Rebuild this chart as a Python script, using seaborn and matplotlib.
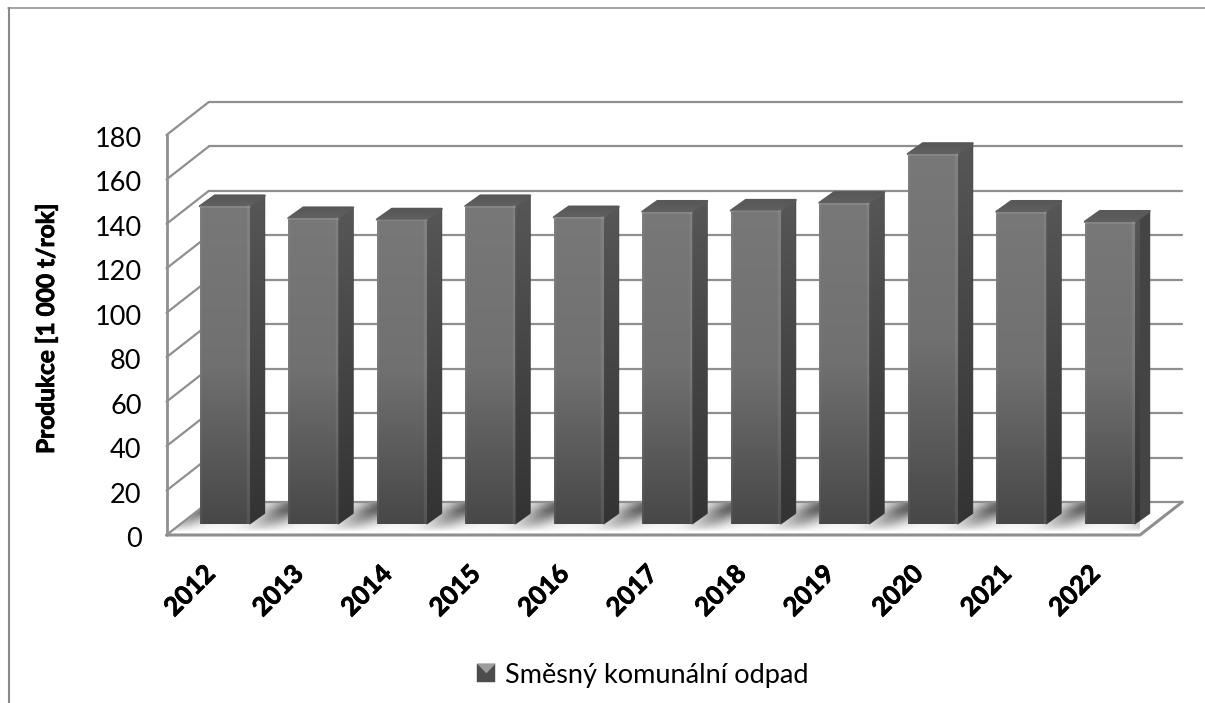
import numpy as np
import matplotlib
matplotlib.use("Agg")
import matplotlib.pyplot as plt
import matplotlib.patheffects as pe
from matplotlib.colors import LinearSegmentedColormap
from matplotlib.legend_handler import HandlerPatch
from matplotlib.lines import Line2D
from matplotlib.patches import Patch, Polygon
from matplotlib.transforms import ScaledTranslation
import pandas as pd
import seaborn as sns

years = ["2012", "2013", "2014", "2015", "2016", "2017", "2018", "2019", "2020", "2021", "2022"]
production = [143, 137.6, 137, 143, 138, 140.5, 141, 144.5, 166.5, 140.5, 136]
y_ticks = [0, 20, 40, 60, 80, 100, 120, 140, 160, 180]
y_title = "Produkce [1 000 t/rok]"
series_name = "Směsný komunální odpad"

W, H = 1205, 703
sns.set_style("white")
plt.rcParams["font.family"] = ["Lato", "DejaVu Sans"]

fig = plt.figure(figsize=(W / 100, H / 100), dpi=100, facecolor="white")
L, R, T, B = 166.5, 1140, 135, 535
ax = fig.add_axes([L / W, (H - B) / H, (R - L) / W, (B - T) / H])
XLIM = (-0.5, 10.5)
YLIM = (0, 180)
DX = (XLIM[1] - XLIM[0]) / (R - L)
DY = (YLIM[1] - YLIM[0]) / (B - T)

WALL_X, WALL_Y = 42.3 * DX, 33 * DY
BAR_OFF_X, BAR_OFF_Y = 14 * DX, 11 * DY
BAR_D_X, BAR_D_Y = 15 * DX, 10.7 * DY
GRID = "#8f8f8f"
HEAVY = [pe.withStroke(linewidth=0.6, foreground="black")]


def gray_cmap(*levels):
    return LinearSegmentedColormap.from_list("g", [(v, v, v) for v in levels])


def fill_gradient(poly, extent, top, bottom):
    ax.add_patch(poly)
    im = ax.imshow(np.linspace(0, 1, 256)[:, None], extent=extent, aspect="auto",
                   cmap=gray_cmap(top, bottom), vmin=0, vmax=1, zorder=poly.get_zorder(),
                   interpolation="bilinear", origin="upper")
    im.set_clip_path(poly)


df = pd.DataFrame({"year": years, "value": production})
sns.barplot(data=df, x="year", y="value", ax=ax, width=0.563, color="#5e5e5e", label=series_name,
            legend=False, zorder=4)

# floor with soft shadows between the bars
floor_px_x = np.arange(L, R + 44)
floor_px_y = np.arange(502, 536)
gx, gy = np.meshgrid(floor_px_x, floor_px_y)
u = gx - (535 - gy) * 43 / 33
back = np.clip((532 - gy) / 22, 0, 1) ** 0.8
shade = np.zeros_like(back)
for k in range(-1, 11):
    uc = 254 + k * 88.4
    shade = np.maximum(shade, np.exp(-((u - uc) / 20.0) ** 2))
shade = shade * np.clip((1165 - u) / 25, 0, 1) * np.clip((u - 150) / 20, 0, 1)
floor_img = 1 - 0.5 * back * shade - 0.1 * back
floor_poly = Polygon([(XLIM[0], 0), (XLIM[1], 0), (XLIM[1] + WALL_X, WALL_Y), (XLIM[0] + WALL_X, WALL_Y)],
                     closed=True, facecolor="none", edgecolor="none", zorder=1)
ax.add_patch(floor_poly)
fim = ax.imshow(floor_img, extent=(XLIM[0], XLIM[1] + WALL_X, 0, WALL_Y), origin="upper", aspect="auto",
                cmap="gray", vmin=0, vmax=1, zorder=1, interpolation="bilinear")
fim.set_clip_path(floor_poly)

# walls: grid lines on the back and on the left side
for v in y_ticks:
    ax.plot([XLIM[0] + WALL_X, XLIM[1] + WALL_X], [v + WALL_Y] * 2, color=GRID, lw=1.6, zorder=2, clip_on=False)
    ax.plot([XLIM[0], XLIM[0] + WALL_X], [v, v + WALL_Y], color=GRID, lw=1.6, zorder=2, clip_on=False)
ax.plot([XLIM[0], XLIM[0]], YLIM, color=GRID, lw=2, zorder=2, clip_on=False)
ax.plot([XLIM[0], XLIM[1], XLIM[1] + WALL_X], [0, 0, WALL_Y], color=GRID, lw=2.2, zorder=2, clip_on=False)

# bars: front from seaborn's rectangles, extruded to pseudo-3D
for bar in list(ax.patches):
    if not hasattr(bar, "get_width"):
        continue
    x0 = bar.get_x() + BAR_OFF_X
    w = bar.get_width()
    h = bar.get_height()
    y0 = BAR_OFF_Y
    x1, y1 = x0 + w, y0 + h
    bar.set_x(x0)
    bar.set_y(y0)
    bar.set_edgecolor("none")
    bar.set_clip_on(False)
    fill_gradient(Polygon([(x1, y0), (x1 + BAR_D_X, y0 + BAR_D_Y), (x1 + BAR_D_X, y1 + BAR_D_Y), (x1, y1)],
                          facecolor="#444444", edgecolor="#404040", lw=0.8, joinstyle="round", zorder=4, clip_on=False),
                  (x1, x1 + BAR_D_X, y0, y1 + BAR_D_Y), 0.34, 0.20)
    fill_gradient(Polygon([(x0, y1), (x1, y1), (x1 + BAR_D_X, y1 + BAR_D_Y), (x0 + BAR_D_X, y1 + BAR_D_Y)],
                          facecolor="#5a5a5a", edgecolor="#5a5a5a", lw=1.6, joinstyle="round", zorder=4, clip_on=False),
                  (x0, x1 + BAR_D_X, y1, y1 + BAR_D_Y), 0.34, 0.38)
    im = ax.imshow(np.linspace(0, 1, 256)[:, None], extent=(x0, x1, y0, y1), aspect="auto",
                   cmap=gray_cmap(0.47, 0.44, 0.28), vmin=0, vmax=1, zorder=4.1,
                   interpolation="bilinear", origin="upper")
    im.set_clip_path(bar)
    ax.add_line(Line2D([x1 - 1.5 * DX] * 2, [y0, y1], color="white", alpha=0.07, lw=2.5, zorder=4.2, clip_on=False))
    ax.add_line(Line2D([x0 + 0.8 * DX] * 2, [y0, y1], color="white", alpha=0.05, lw=1.5, zorder=4.2, clip_on=False))
    ax.add_line(Line2D([x0, x1], [y1 - 0.8 * DY] * 2, color="white", alpha=0.10, lw=1.5, zorder=4.2, clip_on=False))

ax.set_xlim(XLIM)
ax.set_ylim(YLIM)
ax.set_yticks(y_ticks)
ax.set_xticks(range(len(years)))
ax.set_xticklabels(years, rotation=45, ha="right", va="center", rotation_mode="anchor", fontweight="bold")
ax.tick_params(axis="y", length=0, pad=18, labelsize=19.5, labelcolor="black")
ax.tick_params(axis="x", length=0, pad=25, labelsize=18.5, labelcolor="black")
ax.set_xlabel("")
ax.set_ylabel(y_title, fontsize=17.6, fontweight="bold", color="black", path_effects=HEAVY)
ax.yaxis.set_label_coords((58 - L) / (R - L), (B - 329) / (B - T))
for lab in ax.get_xticklabels():
    lab.set_path_effects(HEAVY)
nudge = ScaledTranslation(0, -2 / 72 * 72 / 100, fig.dpi_scale_trans)
for lab in ax.get_yticklabels():
    lab.set_transform(lab.get_transform() + nudge)
for s in ax.spines.values():
    s.set_visible(False)
ax.patch.set_visible(False)


class BevelHandler(HandlerPatch):
    def create_artists(self, legend, orig_handle, xdescent, ydescent, width, height, fontsize, trans):
        x0, y0, x1, y1 = -xdescent, -ydescent, width - xdescent, height - ydescent
        cx, cy = (x0 + x1) / 2, (y0 + y1) / 2
        faces = [([(x0, y0), (x1, y0), (x1, y1), (x0, y1)], "#4c4c4c"),
                 ([(x0, y1), (x1, y1), (cx, cy)], "#9c9c9c")]
        out = []
        for pts, c in faces:
            p = Polygon(pts, closed=True, facecolor=c, edgecolor=c, lw=0.3)
            p.set_transform(trans)
            out.append(p)
        return out


ax.legend([Patch(facecolor="#5e5e5e")], [series_name], handler_map={Patch: BevelHandler()},
          loc="center", bbox_to_anchor=(643 / W, (H - 675) / H), bbox_transform=fig.transFigure,
          frameon=False, fontsize=19.5, handlelength=0.66, handleheight=0.66, handletextpad=0.36, labelcolor="black")

# chart-area border (only the upper left is in view)
fig.add_artist(Line2D([9 / W, 9 / W], [0, (H - 7.5) / H], color="#8a8a8a", lw=1.5, transform=fig.transFigure))
fig.add_artist(Line2D([8 / W, 1], [(H - 7.5) / H] * 2, color="#8a8a8a", lw=1.1, transform=fig.transFigure))

fig.savefig("out.png", dpi=100)
